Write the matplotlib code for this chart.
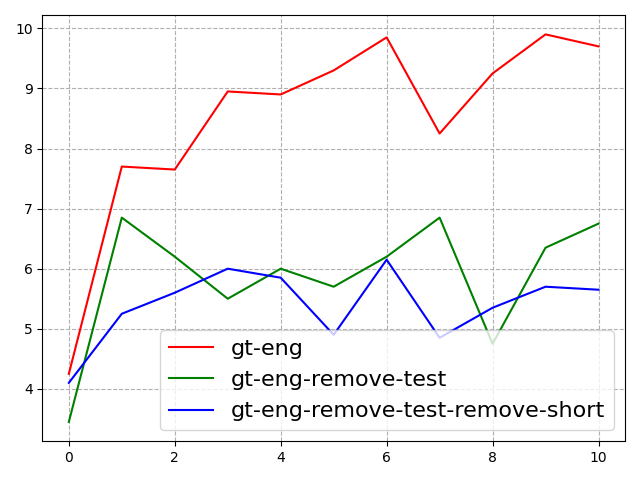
import matplotlib
matplotlib.use("Agg")
from matplotlib import pyplot as plt

x = list(range(11))
gt_eng = [4.25, 7.7, 7.65, 8.95, 8.9, 9.3, 9.85, 8.25, 9.25, 9.9, 9.7]
gt_eng_rt = [3.45, 6.85, 6.2, 5.5, 6.0, 5.7, 6.2, 6.85, 4.75, 6.35, 6.75]
gt_eng_rt_rs = [4.1, 5.25, 5.6, 6.0, 5.85, 4.9, 6.15, 4.85, 5.35, 5.7, 5.65]

fig = plt.figure(figsize=(6.4, 4.8), dpi=100)
plt.plot(x, gt_eng, color='red', label='gt-eng')
plt.plot(x, gt_eng_rt, color='green', label='gt-eng-remove-test')
plt.plot(x, gt_eng_rt_rs, color='blue', label='gt-eng-remove-test-remove-short')
plt.grid(linestyle='--')
plt.legend(fontsize=16, loc='lower right')
plt.tight_layout()
plt.savefig('out.png')
